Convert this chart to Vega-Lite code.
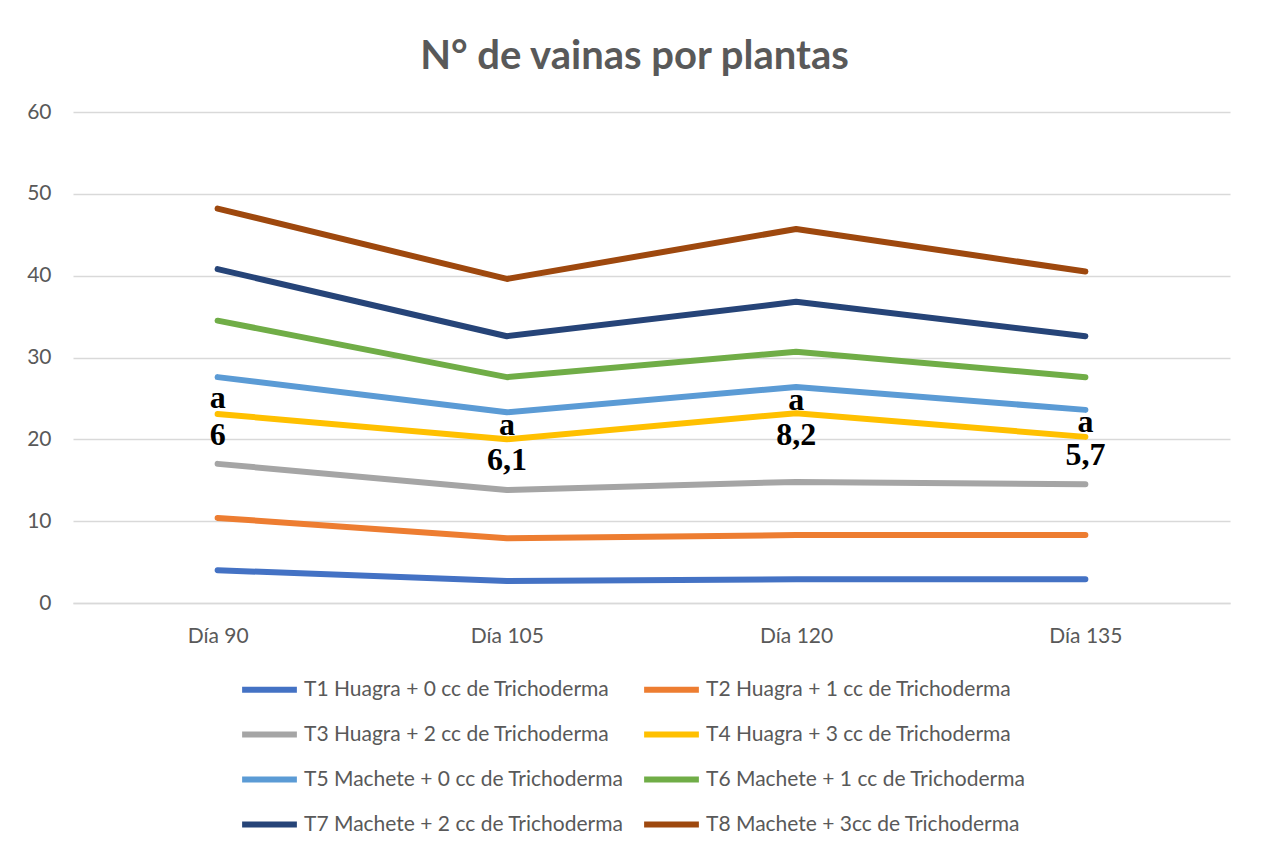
{
  "$schema": "https://vega.github.io/schema/vega-lite/v6.json",
  "autosize": "none",
  "width": 1157,
  "height": 491,
  "padding": {"left": 73, "top": 112, "right": 34, "bottom": 250},
  "background": "white",
  "config": {"view": {"stroke": null}},
  "title": {
    "text": "N° de vainas por plantas",
    "font": "Lato",
    "fontSize": 40,
    "fontWeight": "bold",
    "color": "#595959",
    "anchor": "middle",
    "dx": -17,
    "offset": 24
  },
  "datasets": {
    "series": [
      {"dia": "Día 90", "t": "T1  Huagra + 0 cc de Trichoderma", "v": 4.0},
      {"dia": "Día 105", "t": "T1  Huagra + 0 cc de Trichoderma", "v": 2.7},
      {"dia": "Día 120", "t": "T1  Huagra + 0 cc de Trichoderma", "v": 2.9},
      {"dia": "Día 135", "t": "T1  Huagra + 0 cc de Trichoderma", "v": 2.9},
      {"dia": "Día 90", "t": "T2  Huagra + 1 cc de Trichoderma", "v": 10.4},
      {"dia": "Día 105", "t": "T2  Huagra + 1 cc de Trichoderma", "v": 7.9},
      {"dia": "Día 120", "t": "T2  Huagra + 1 cc de Trichoderma", "v": 8.3},
      {"dia": "Día 135", "t": "T2  Huagra + 1 cc de Trichoderma", "v": 8.3},
      {"dia": "Día 90", "t": "T3  Huagra + 2 cc de Trichoderma", "v": 17.0},
      {"dia": "Día 105", "t": "T3  Huagra + 2 cc de Trichoderma", "v": 13.8},
      {"dia": "Día 120", "t": "T3  Huagra + 2 cc de Trichoderma", "v": 14.8},
      {"dia": "Día 135", "t": "T3  Huagra + 2 cc de Trichoderma", "v": 14.5},
      {"dia": "Día 90", "t": "T4  Huagra + 3 cc de Trichoderma", "v": 23.1},
      {"dia": "Día 105", "t": "T4  Huagra + 3 cc de Trichoderma", "v": 20.0},
      {"dia": "Día 120", "t": "T4  Huagra + 3 cc de Trichoderma", "v": 23.2},
      {"dia": "Día 135", "t": "T4  Huagra + 3 cc de Trichoderma", "v": 20.3},
      {"dia": "Día 90", "t": "T5 Machete + 0 cc de Trichoderma", "v": 27.6},
      {"dia": "Día 105", "t": "T5 Machete + 0 cc de Trichoderma", "v": 23.3},
      {"dia": "Día 120", "t": "T5 Machete + 0 cc de Trichoderma", "v": 26.4},
      {"dia": "Día 135", "t": "T5 Machete + 0 cc de Trichoderma", "v": 23.6},
      {"dia": "Día 90", "t": "T6 Machete + 1 cc de Trichoderma", "v": 34.5},
      {"dia": "Día 105", "t": "T6 Machete + 1 cc de Trichoderma", "v": 27.6},
      {"dia": "Día 120", "t": "T6 Machete + 1 cc de Trichoderma", "v": 30.7},
      {"dia": "Día 135", "t": "T6 Machete + 1 cc de Trichoderma", "v": 27.6},
      {"dia": "Día 90", "t": "T7 Machete + 2 cc de Trichoderma", "v": 40.8},
      {"dia": "Día 105", "t": "T7 Machete + 2 cc de Trichoderma", "v": 32.6},
      {"dia": "Día 120", "t": "T7 Machete + 2 cc de Trichoderma", "v": 36.8},
      {"dia": "Día 135", "t": "T7 Machete + 2 cc de Trichoderma", "v": 32.6},
      {"dia": "Día 90", "t": "T8 Machete + 3cc de Trichoderma", "v": 48.2},
      {"dia": "Día 105", "t": "T8 Machete + 3cc de Trichoderma", "v": 39.6},
      {"dia": "Día 120", "t": "T8 Machete + 3cc de Trichoderma", "v": 45.7},
      {"dia": "Día 135", "t": "T8 Machete + 3cc de Trichoderma", "v": 40.5}
    ],
    "notes": [
      {"dia": "Día 90", "label": "a", "v": 25.1},
      {"dia": "Día 90", "label": "6", "v": 20.5},
      {"dia": "Día 105", "label": "a", "v": 21.8},
      {"dia": "Día 105", "label": "6,1", "v": 17.5},
      {"dia": "Día 120", "label": "a", "v": 24.8},
      {"dia": "Día 120", "label": "8,2", "v": 20.5},
      {"dia": "Día 135", "label": "a", "v": 22.1},
      {"dia": "Día 135", "label": "5,7", "v": 18.1}
    ]
  },
  "layer": [
    {
      "data": {"name": "series"},
      "mark": {"type": "line", "strokeWidth": 6, "strokeCap": "round", "strokeJoin": "round"},
      "encoding": {
        "x": {
          "field": "dia", "type": "ordinal",
          "sort": ["Día 90", "Día 105", "Día 120", "Día 135"],
          "scale": {"type": "point", "padding": 0.5},
          "axis": {"title": null, "labelAngle": 0, "ticks": false, "domain": true, "domainColor": "#d9d9d9", "domainWidth": 1.5, "labelPadding": 22, "labelFont": "Lato", "labelFontSize": 21, "labelColor": "#595959", "grid": false}
        },
        "y": {
          "field": "v", "type": "quantitative",
          "scale": {"domain": [0, 60], "nice": false},
          "axis": {"title": null, "values": [0, 10, 20, 30, 40, 50, 60], "ticks": false, "domain": false, "grid": true, "gridColor": "#d9d9d9", "gridWidth": 1.5, "labelPadding": 22, "labelFont": "Lato", "labelFontSize": 21, "labelColor": "#595959"}
        },
        "color": {
          "field": "t", "type": "nominal",
          "scale": {
            "domain": ["T1  Huagra + 0 cc de Trichoderma", "T2  Huagra + 1 cc de Trichoderma", "T3  Huagra + 2 cc de Trichoderma", "T4  Huagra + 3 cc de Trichoderma", "T5 Machete + 0 cc de Trichoderma", "T6 Machete + 1 cc de Trichoderma", "T7 Machete + 2 cc de Trichoderma", "T8 Machete + 3cc de Trichoderma"],
            "range": ["#4472C4", "#ED7D31", "#A5A5A5", "#FFC000", "#5B9BD5", "#70AD47", "#264478", "#9E480E"]
          },
          "legend": {
            "title": null,
            "orient": "none",
            "direction": "horizontal",
            "legendX": 166,
            "legendY": 547,
            "columns": 2,
            "symbolType": "stroke",
            "symbolSize": 3000,
            "symbolStrokeWidth": 6,
            "labelFont": "Lato",
            "labelFontSize": 21,
            "labelColor": "#595959",
            "labelOffset": 4,
            "labelLimit": 400,
            "rowPadding": 2,
            "columnPadding": 8
          }
        }
      }
    },
    {
      "data": {"name": "notes"},
      "mark": {"type": "text", "font": "Liberation Serif", "fontSize": 32, "fontWeight": "bold", "color": "black", "baseline": "middle", "align": "center"},
      "encoding": {
        "x": {"field": "dia", "type": "ordinal", "sort": ["Día 90", "Día 105", "Día 120", "Día 135"]},
        "y": {"field": "v", "type": "quantitative"},
        "text": {"field": "label"}
      }
    }
  ]
}
